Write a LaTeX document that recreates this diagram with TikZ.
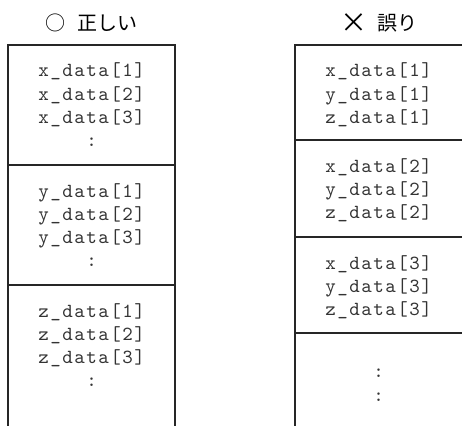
\documentclass[tikz,border=0pt]{standalone}
\usepackage{fontspec}
\newfontfamily\codefont{lmmono10-regular}[Extension=.otf,LetterSpace=7.5]
\newfontfamily\jpfont{Noto Sans CJK JP}

\begin{document}
\begin{tikzpicture}[x=1pt,y=-1pt,
    wall/.style={line width=1.3pt,black!85},
    cell/.style={anchor=base,inner sep=0pt,text=black!80,font=\codefont\fontsize{20}{23}\selectfont},
    head/.style={font=\jpfont\fontsize{20}{24}\selectfont}]
  \useasboundingbox (0,0) rectangle (462,425);
  \begin{scope}[shift={(0,0)}]
    \node[head] (ok) at (91,23) {○\hspace{12pt}正しい};
    \draw[wall](8,430)--(8,45)--(175,45)--(175,430);
    \draw[wall](8,165)--(175,165);
    \draw[wall](8,285)--(175,285);
    \foreach \col/\y in {x/45,y/165,z/285}{
      \foreach \i in {1,2,3}
        \node[cell] (\col\i) at (91.5,{\y+32+23*(\i-1)}) {\col\_data[\i]};
      \node[cell] (\col dots) at (91.5,\y+101) {:};
    }
  \end{scope}
  \begin{scope}[shift={(0,0)}]
    \node[head] (ng) at (378.5,23) {\raisebox{-1.5pt}{\scalebox{1.35}{×}}\hspace{10pt}誤り};
    \draw[wall](295,430)--(295,45)--(470,45);
    \foreach \y in {140,237,333}
      \draw[wall](295,\y)--(470,\y);
    \foreach \y [count=\i] in {45,140,237}{
      \foreach \col/\k in {x/0,y/1,z/2}
        \node[cell] (r\col\i) at (378.5,{\y+32+23*\k}) {\col\_data[\i]};
    }
    \node[cell] (rdots1) at (378.5,377) {:};
    \node[cell] (rdots2) at (378.5,401) {:};
  \end{scope}
\end{tikzpicture}
\end{document}
